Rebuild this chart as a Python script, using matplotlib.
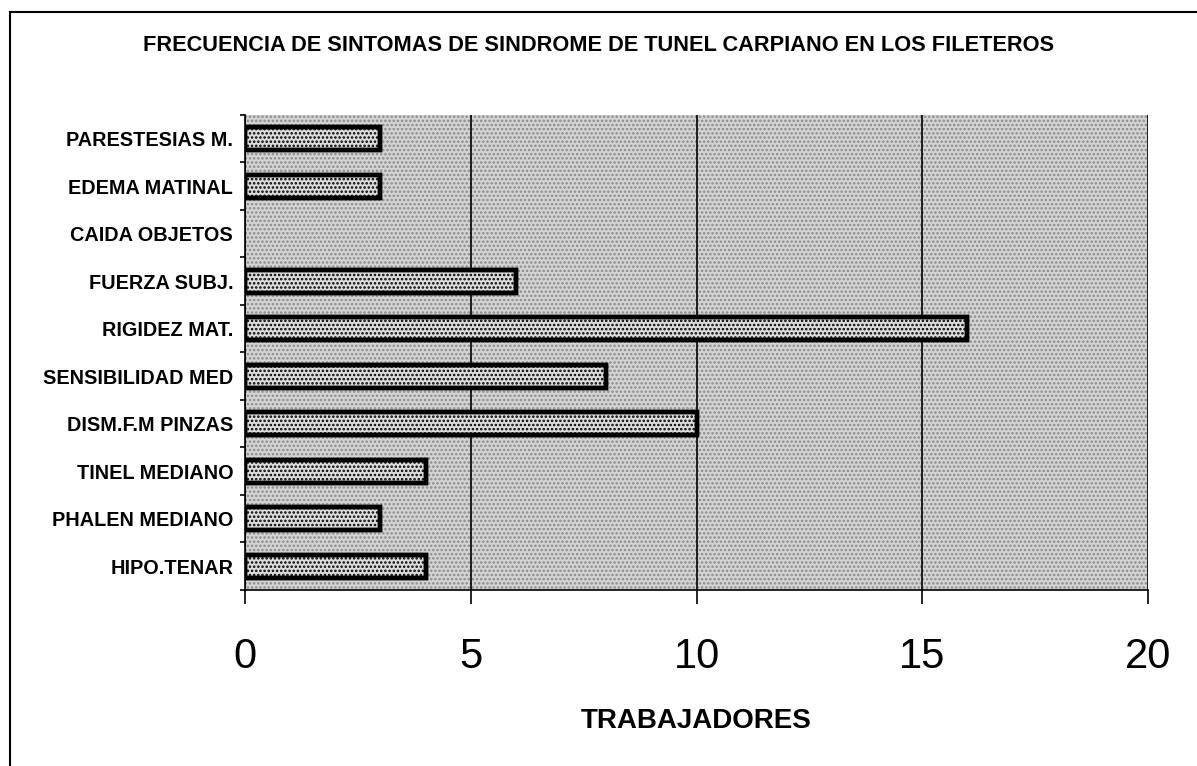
import matplotlib
matplotlib.use("Agg")
from matplotlib import pyplot as plt
from matplotlib.lines import Line2D
import numpy as np

# %% data (bottom to top, as drawn)
sintomas = ["HIPO.TENAR", "PHALEN MEDIANO", "TINEL MEDIANO", "DISM.F.M PINZAS",
            "SENSIBILIDAD MED", "RIGIDEZ MAT.", "FUERZA SUBJ.", "CAIDA OBJETOS",
            "EDEMA MATINAL", "PARESTESIAS M."]
trabajadores = [4, 3, 4, 10, 8, 16, 6, 0, 3, 3]
x_ticks = [0, 5, 10, 15, 20]

titulo = "FRECUENCIA DE SINTOMAS DE SINDROME DE TUNEL CARPIANO EN LOS FILETEROS"

# %% plot
plt.rcParams["font.family"] = ["Liberation Sans", "DejaVu Sans"]
plt.rcParams["hatch.linewidth"] = 1.2

fig = plt.figure(figsize=(11.97, 7.66), dpi=100)
ax = fig.add_axes([0.2047, 0.2298, 0.7544, 0.6201])

ax.set_facecolor("#d4d4d4")
ax.patch.set_hatch("....")
ax.patch.set_edgecolor("#8a8a8a")

y_pos = np.arange(len(sintomas))
# no outline for empty bars (CAIDA OBJETOS)
edge_w = [3.2 if v > 0 else 0 for v in trabajadores]
ax.barh(y_pos, trabajadores, height=0.48, color="#dcdcdc", edgecolor="black",
        linewidth=edge_w, hatch="....", zorder=3)
# redraw black outline over the hatch colour
ax.barh(y_pos, trabajadores, height=0.48, fill=False, edgecolor="black",
        linewidth=edge_w, zorder=4)

ax.set_xlim(0, 20)
ax.set_ylim(-0.5, len(sintomas) - 0.5)

ax.set_xticks(x_ticks)
ax.set_xticklabels([str(v) for v in x_ticks], fontsize=30)
ax.tick_params(axis="x", direction="out", length=10, width=1.2, pad=24)
ax.xaxis.grid(True, color="black", linewidth=1.2, zorder=1)
ax.set_axisbelow(True)

ax.set_yticks(y_pos)
ax.set_yticklabels(sintomas, fontsize=14.3, fontweight="bold")
ax.set_yticks(np.arange(-0.5, len(sintomas)), minor=True)
ax.tick_params(axis="y", which="major", length=0, pad=8.5)
ax.tick_params(axis="y", which="minor", direction="out", length=3.6, width=1.2)

for side in ["top", "right"]:
    ax.spines[side].set_visible(False)
ax.spines["left"].set_linewidth(1.2)
ax.spines["bottom"].set_linewidth(1.2)

ax.set_xlabel("TRABAJADORES", fontsize=20, fontweight="bold", labelpad=22)

fig.text(0.5, 0.941, titulo, ha="center", va="center", fontsize=15.7,
         fontweight="bold")

# outer frame of the chart (scan shows top and left edges)
fig.add_artist(Line2D([0.0085, 1.0], [0.984, 0.984], color="black", linewidth=1.5))
fig.add_artist(Line2D([0.0085, 0.0085], [0.0, 0.984], color="black", linewidth=1.5))

fig.savefig("out.png", dpi=100)
